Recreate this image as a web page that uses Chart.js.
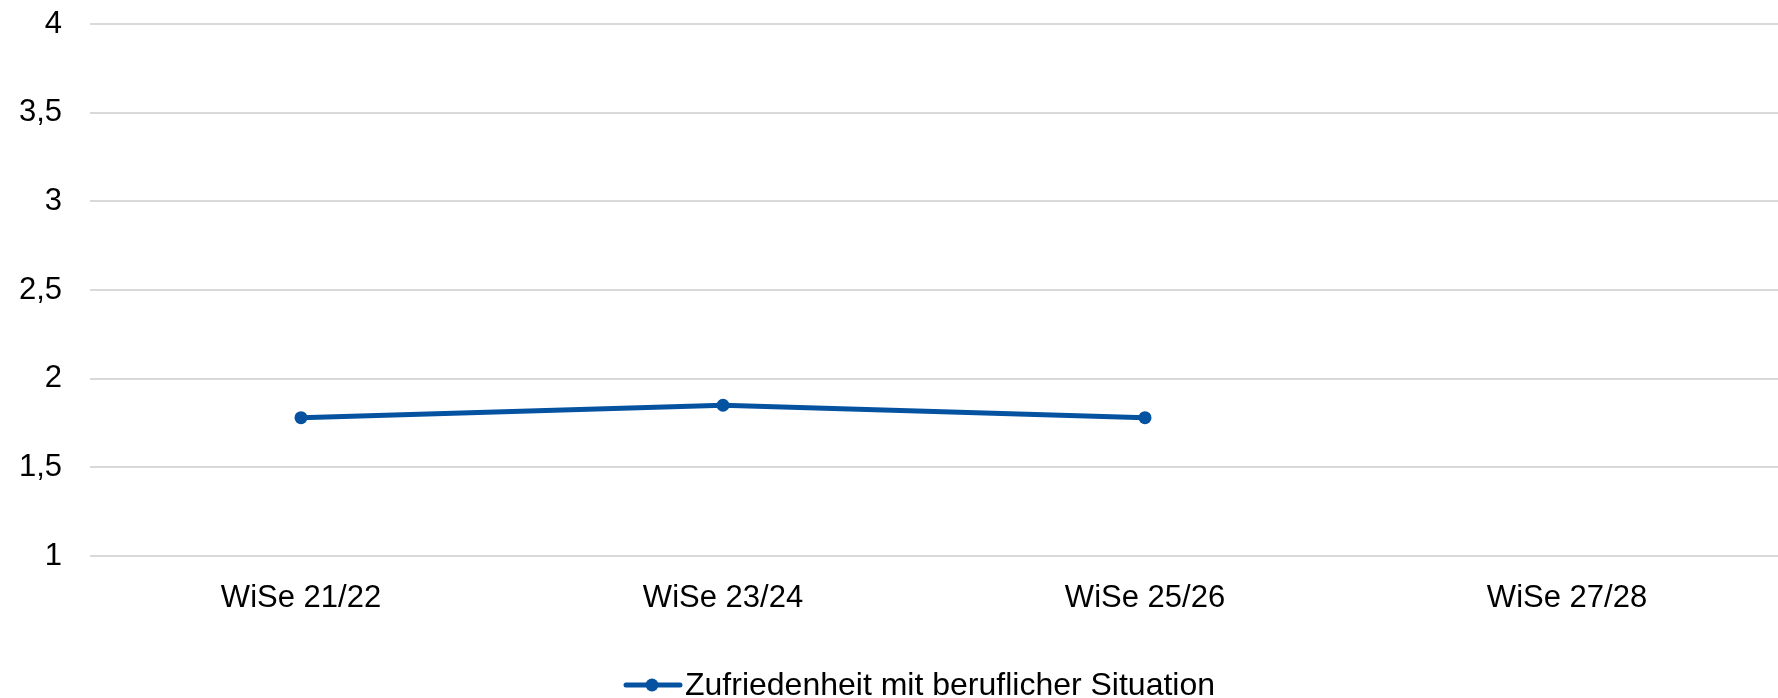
<!DOCTYPE html>
<html><head><meta charset="utf-8">
<script src="https://cdn.jsdelivr.net/npm/chart.js@4/dist/chart.umd.min.js"></script>
<style>
html,body{margin:0;padding:0;background:#fff}
#wrap{position:relative;width:1778px;height:698px;overflow:hidden}
#cwrap{position:absolute;left:0;top:0;width:1778px;height:698px}
#lg{position:absolute;left:622px;top:676px}
#lgt{position:absolute;left:685px;top:668px;white-space:nowrap;font-family:'Liberation Sans',Arial,sans-serif;font-size:32px;line-height:32px;color:#000}
</style>
</head><body><div id="wrap"><div id="cwrap"><canvas id="c"></canvas></div>
<canvas id="lg" width="62" height="18"></canvas><span id="lgt"></span></div>
<script>
const categories = ["WiSe 21/22", "WiSe 23/24", "WiSe 25/26", "WiSe 27/28"];
const seriesName = "Zufriedenheit mit beruflicher Situation";
const seriesValues = [1.78, 1.85, 1.78, null];
const yTicks = [1, 1.5, 2, 2.5, 3, 3.5, 4];

const COLOR = '#0552a1';
const FONT = "'Liberation Sans', Arial, sans-serif";
const FS = 31;

// legend (real text)
document.getElementById('lgt').textContent = seriesName;
(function(){
  const g = document.getElementById('lg').getContext('2d');
  g.strokeStyle = COLOR; g.lineWidth = 5; g.lineCap = 'round';
  g.beginPath(); g.moveTo(4,9); g.lineTo(58,9); g.stroke();
  g.fillStyle = COLOR; g.beginPath(); g.arc(30,9,6.5,0,Math.PI*2); g.fill();
})();

new Chart(document.getElementById('c'), {
  type: 'line',
  data: {
    labels: categories,
    datasets: [{
      label: seriesName,
      data: seriesValues,
      borderColor: COLOR,
      backgroundColor: COLOR,
      borderWidth: 5,
      pointRadius: 6.5,
      pointHoverRadius: 6.5,
      pointBackgroundColor: COLOR,
      pointBorderWidth: 0,
      tension: 0,
      pointStyle: 'circle'
    }]
  },
  options: {
    responsive: true,
    maintainAspectRatio: false,
    animation: false,
    layout: { autoPadding: false, padding: { top: 24, right: 0, left: 0, bottom: 0 } },
    plugins: {
      tooltip: { enabled: false },
      legend: { display: false }
    },
    scales: {
      x: {
        offset: true,
        grid: { display: false, drawTicks: false },
        border: { display: false },
        ticks: { font: { family: FONT, size: FS }, color: '#000', padding: 24, maxRotation: 0 },
        afterFit(s){ s.height = 142; s.paddingLeft = 0; s.paddingRight = 0; }
      },
      y: {
        min: 1, max: 4,
        afterBuildTicks(s){ s.ticks = yTicks.map(v => ({ value: v })); },
        grid: { color: '#d9d9d9', lineWidth: 2, drawTicks: false },
        border: { display: false },
        ticks: {
          font: { family: FONT, size: FS }, color: '#000', padding: 28,
          callback: v => String(v).replace('.', ',')
        },
        afterFit(s){ s.width = 90; s.paddingTop = 0; s.paddingBottom = 0; }
      }
    }
  }
});
</script></body></html>
